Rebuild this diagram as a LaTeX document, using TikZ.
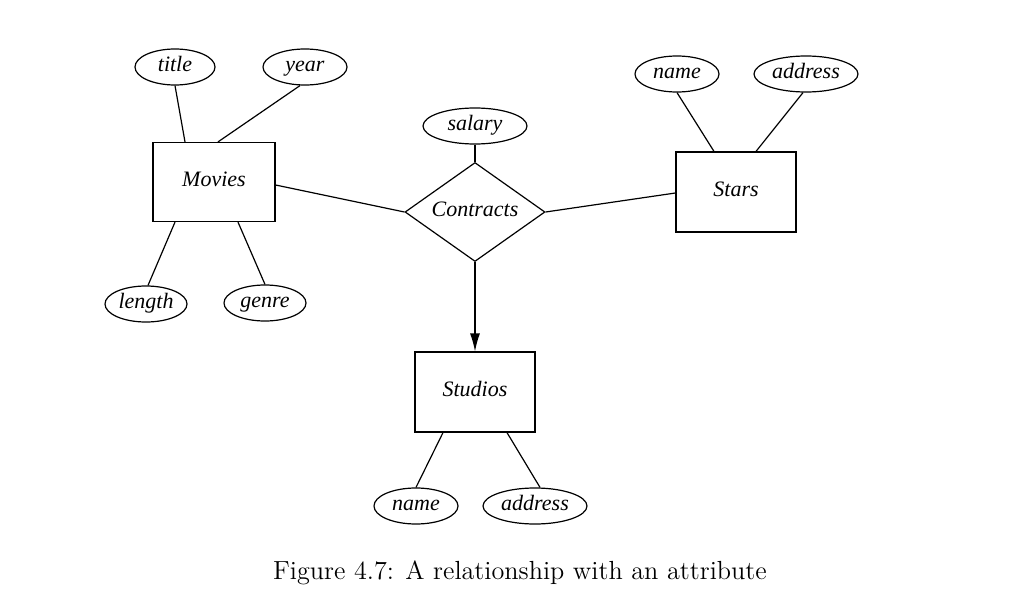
\documentclass[tikz,border=0pt]{standalone}
\usepackage{fontspec}
\newfontfamily\timesf{Liberation Serif}
\usetikzlibrary{shapes.geometric,calc,arrows.meta}
\begin{document}
\begin{tikzpicture}[x=0.5pt,y=-0.5pt,
  lbl/.style={font=\timesf\itshape\fontsize{11}{13}\selectfont,text height=1.6ex,text depth=0.45ex},
  attr/.style={lbl,ellipse,draw,inner sep=0pt,minimum height=18pt},
  ent/.style={lbl,rectangle,draw,inner sep=0pt,minimum width=61pt,minimum height=39.5pt},
  rel/.style={lbl,diamond,draw,inner sep=0pt,minimum width=70pt,minimum height=49.5pt,aspect=1.414},
  line width=0.6pt]
\useasboundingbox (0,0) rectangle (1024,605);
\node[ent] (movies) at (214,182) {Movies};
\node[ent,minimum width=60pt,minimum height=40pt] (stars) at (736,192) {Stars};
\node[ent,minimum width=60pt,minimum height=40pt] (studios) at (475,392) {Studios};
\node[rel] (contracts) at (475,212) {Contracts};
\node[attr,minimum width=40pt] (title) at (175,67) {title};
\node[attr,minimum width=42pt] (year) at (305,67) {year};
\node[attr,minimum width=41pt] (length) at (146,304) {length};
\node[attr,minimum width=41pt] (genre) at (265,303) {genre};
\node[attr,minimum width=52pt] (salary) at (475,126) {salary};
\node[attr,minimum width=42pt] (sname) at (677,74) {name};
\node[attr,minimum width=52pt] (saddr) at (806,74) {address};
\node[attr,minimum width=42pt] (dname) at (416,506) {name};
\node[attr,minimum width=52pt] (daddr) at (535,506) {address};
\node[font=\fontsize{13.1}{15}\selectfont] (cap) at (520,573) {Figure 4.7: A relationship with an attribute};
\draw (title.south) -- ($(movies.north)+(-29,0)$);
\draw ($(year.south)+(-5,0)$) -- ($(movies.north)+(4,0)$);
\draw ($(movies.south)+(-39,0)$) -- ($(length.north)+(2,0)$);
\draw ($(movies.south)+(24,0)$) -- (genre.north);
\draw ($(movies.east)+(0,3)$) -- (contracts.west);
\draw (contracts.east) -- ($(stars.west)+(0,1)$);
\draw (salary.south) -- (contracts.north);
\draw[-{Latex[length=9pt,width=5pt]}] (contracts.south) -- (studios.north);
\draw (sname.south) -- ($(stars.north)+(-22,0)$);
\draw ($(saddr.south)+(-3,0)$) -- ($(stars.north)+(20,0)$);
\draw ($(studios.south)+(-32,0)$) -- (dname.north);
\draw ($(studios.south)+(32,0)$) -- ($(daddr.north)+(5,0)$);
\end{tikzpicture}
\end{document}
